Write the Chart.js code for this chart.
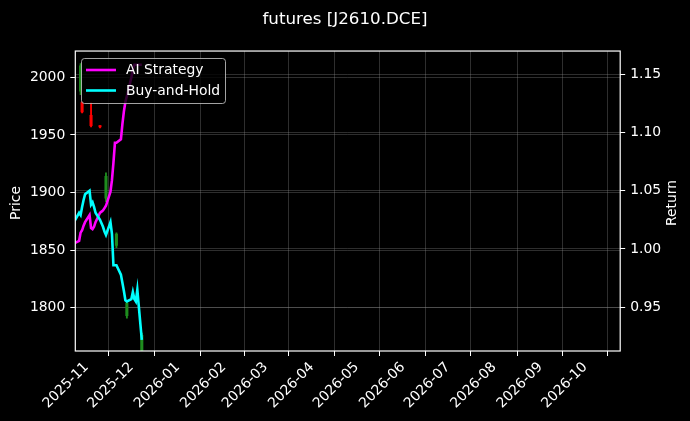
<!DOCTYPE html>
<html>
<head>
<meta charset="utf-8">
<script src="https://cdn.jsdelivr.net/npm/chart.js@4.4.1/dist/chart.umd.min.js"></script>
<style>
    html, body { margin: 0; padding: 0; background: #000; }
    #wrap { width: 690px; height: 421px; }
</style>
</head>
<body>
<div id="wrap"><canvas id="chart" width="690" height="421"></canvas></div>
<script>
// trading days shown on the chart
const dates = [
    '2025-10-24', '2025-10-27', '2025-10-28', '2025-10-29', '2025-10-30', '2025-10-31',
    '2025-11-03', '2025-11-04', '2025-11-05', '2025-11-06', '2025-11-07',
    '2025-11-10', '2025-11-11', '2025-11-12', '2025-11-13', '2025-11-14',
    '2025-11-17', '2025-11-18', '2025-11-19', '2025-11-20', '2025-11-21',
    '2025-11-24', '2025-11-25', '2025-11-26', '2025-11-27', '2025-11-28',
    '2025-12-01', '2025-12-02', '2025-12-03', '2025-12-04', '2025-12-05',
    '2025-12-08'
];

const aiStrategy = [
    1.005, 1.007, 1.014, 1.016, 1.020, 1.023,
    1.029, 1.018, 1.017, 1.019, 1.023,
    1.031, 1.032, 1.033, 1.035, 1.037,
    1.049, 1.059, 1.074, 1.091, 1.091,
    1.094, 1.107, 1.118, 1.126, 1.131,
    1.147, 1.154, 1.158, 1.158, 1.158,
    1.158
];

const buyAndHold = [
    1.024, 1.031, 1.029, 1.036, 1.042, 1.047,
    1.050, 1.038, 1.040, 1.036, 1.031,
    1.025, 1.022, 1.019, 1.015, 1.012,
    1.023, 1.013, 0.986, 0.986, 0.986,
    0.978, 0.971, 0.964, 0.956, 0.955,
    0.957, 0.963, 0.957, 0.955, 0.965,
    0.922
];

// candles that can be seen (the rest sit behind the lines)
const candleDates = ['2025-10-28', '2025-10-29', '2025-11-04', '2025-11-10', '2025-11-14', '2025-11-21', '2025-11-28', '2025-12-08'];
const candleOpen  = [1988, 1978, 1967, 1958, 1895, 1854, 1793, 1763];
const candleHigh  = [2012, 1979, 1978, 1958, 1917, 1865, 1806, 1778];
const candleLow   = [1985, 1969, 1957, 1956, 1892, 1852, 1791, 1760];
const candleClose = [2010, 1970, 1958, 1957, 1914, 1864, 1804, 1776];

const monthTicks = ['2025-11', '2025-12', '2026-01', '2026-02', '2026-03', '2026-04',
                    '2026-05', '2026-06', '2026-07', '2026-08', '2026-09', '2026-10'];
const priceTicks = [1800, 1850, 1900, 1950, 2000];
const returnTicks = [0.95, 1.00, 1.05, 1.10, 1.15];

const DAY = 86400000;
const toMs = (s) => Date.UTC(+s.slice(0, 4), +s.slice(5, 7) - 1, s.length > 7 ? +s.slice(8, 10) : 1);
const fmtMonth = (v) => {
    const d = new Date(v);
    return d.getUTCFullYear() + '-' + String(d.getUTCMonth() + 1).padStart(2, '0');
};

const xMin = toMs('2025-10-24') + 0.45 * DAY;
const xMax = xMin + 365 * DAY;

const FONT = 'DejaVu Sans';
const gridStyle = {
    color: 'rgba(140,140,140,0.55)',
    lineWidth: 0.6,
    borderDash: [2.5, 2.5],
    tickColor: '#ffffff',
    tickLength: 5,
    tickWidth: 1,
    tickBorderDash: []
};

const candleColor = (i) => candleClose[i] >= candleOpen[i] ? '#1e8c1e' : '#ff0000';

const wickData = candleDates.map((d, i) => ({ x: toMs(d), y: [candleLow[i], candleHigh[i]] }));
const bodyData = candleDates.map((d, i) => ({ x: toMs(d), y: [candleOpen[i], candleClose[i]] }));

const bgPlugin = {
    id: 'bg',
    beforeDraw: (chart) => {
        const ctx = chart.ctx;
        ctx.save();
        ctx.fillStyle = '#000';
        ctx.fillRect(0, 0, chart.width, chart.height);
        ctx.restore();
    }
};

// frame, axis titles and the legend inside the plot
const overlayPlugin = {
    id: 'overlay',
    afterDraw: (chart) => {
        const ctx = chart.ctx;
        const a = chart.chartArea;
        ctx.save();
        ctx.strokeStyle = '#ffffff';
        ctx.lineWidth = 1.2;
        ctx.strokeRect(a.left, a.top, a.right - a.left, a.bottom - a.top);

        ctx.fillStyle = '#ffffff';
        ctx.font = '13.9px "' + FONT + '"';
        ctx.textAlign = 'center';
        ctx.textBaseline = 'middle';
        const midY = (a.top + a.bottom) / 2 + 2;
        [['Price', 16.5], ['Return', 672.5]].forEach(([txt, x]) => {
            ctx.save();
            ctx.translate(x, midY);
            ctx.rotate(-Math.PI / 2);
            ctx.fillText(txt, 0, 0);
            ctx.restore();
        });

        // legend box
        const bx = 81.5, by = 58.5, bw = 144, bh = 45, r = 3;
        ctx.beginPath();
        ctx.moveTo(bx + r, by);
        ctx.arcTo(bx + bw, by, bx + bw, by + bh, r);
        ctx.arcTo(bx + bw, by + bh, bx, by + bh, r);
        ctx.arcTo(bx, by + bh, bx, by, r);
        ctx.arcTo(bx, by, bx + bw, by, r);
        ctx.closePath();
        ctx.fillStyle = 'rgba(0,0,0,0.8)';
        ctx.fill();
        ctx.strokeStyle = 'rgba(204,204,204,0.8)';
        ctx.lineWidth = 1;
        ctx.stroke();

        const items = [['AI Strategy', '#ff00ff', 70], ['Buy-and-Hold', '#00ffff', 90.5]];
        ctx.textAlign = 'left';
        items.forEach(([label, color, y]) => {
            ctx.strokeStyle = color;
            ctx.lineWidth = 2.6;
            ctx.beginPath();
            ctx.moveTo(86, y);
            ctx.lineTo(116, y);
            ctx.stroke();
            ctx.fillStyle = '#ffffff';
            ctx.fillText(label, 126, y + 0.5);
        });
        ctx.restore();
    }
};

new Chart(document.getElementById('chart'), {
    type: 'line',
    data: {
        datasets: [
            {
                type: 'line',
                label: 'Buy-and-Hold',
                data: dates.map((d, i) => ({ x: toMs(d), y: buyAndHold[i] })),
                yAxisID: 'y1',
                borderColor: '#00ffff',
                borderWidth: 2.6,
                pointRadius: 0,
                tension: 0,
                order: 1
            },
            {
                type: 'line',
                label: 'AI Strategy',
                data: dates.map((d, i) => ({ x: toMs(d), y: aiStrategy[i] })),
                yAxisID: 'y1',
                borderColor: '#ff00ff',
                borderWidth: 2.6,
                pointRadius: 0,
                tension: 0,
                order: 2
            },
            {
                type: 'bar',
                label: 'wick',
                data: wickData,
                yAxisID: 'y',
                backgroundColor: candleDates.map((d, i) => candleColor(i)),
                barThickness: 1.2,
                grouped: false,
                order: 4
            },
            {
                type: 'bar',
                label: 'body',
                data: bodyData,
                yAxisID: 'y',
                backgroundColor: candleDates.map((d, i) => candleColor(i)),
                barThickness: 2.4,
                grouped: false,
                order: 3
            }
        ]
    },
    options: {
        responsive: false,
        animation: false,
        devicePixelRatio: 1,
        layout: { padding: 0 },
        plugins: {
            legend: { display: false },
            tooltip: { enabled: false },
            title: {
                display: true,
                text: 'futures [J2610.DCE]',
                color: '#ffffff',
                font: { family: FONT, size: 16.7, weight: 'normal' },
                padding: { top: 10, bottom: 21 }
            }
        },
        scales: {
            x: {
                type: 'linear',
                min: xMin,
                max: xMax,
                offset: false,
                afterBuildTicks: (scale) => { scale.ticks = monthTicks.map(m => ({ value: toMs(m) })); },
                afterFit: (scale) => { scale.height = 70; },
                ticks: {
                    color: '#ffffff',
                    font: { family: FONT, size: 13.9 },
                    minRotation: 45,
                    maxRotation: 45,
                    padding: 3,
                    autoSkip: false,
                    callback: (v) => fmtMonth(v)
                },
                grid: gridStyle,
                border: { display: false }
            },
            y: {
                type: 'linear',
                position: 'left',
                min: 1762.4,
                max: 2022.8,
                afterBuildTicks: (scale) => { scale.ticks = priceTicks.map(v => ({ value: v })); },
                afterFit: (scale) => { scale.width = 75.3; },
                ticks: {
                    color: '#ffffff',
                    font: { family: FONT, size: 13.9 },
                    padding: 5,
                    callback: (v) => String(v)
                },
                grid: gridStyle,
                border: { display: false }
            },
            y1: {
                type: 'linear',
                position: 'right',
                min: 0.9125,
                max: 1.1697,
                afterBuildTicks: (scale) => { scale.ticks = returnTicks.map(v => ({ value: v })); },
                afterFit: (scale) => { scale.width = 69.8; },
                ticks: {
                    color: '#ffffff',
                    font: { family: FONT, size: 13.9 },
                    padding: 5,
                    callback: (v) => Number(v).toFixed(2)
                },
                grid: gridStyle,
                border: { display: false }
            }
        }
    },
    plugins: [bgPlugin, overlayPlugin]
});
</script>
</body>
</html>
